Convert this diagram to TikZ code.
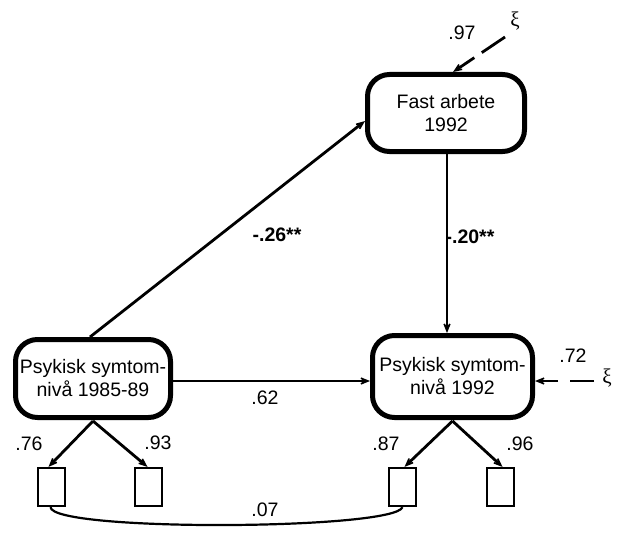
\documentclass[tikz,border=0pt]{standalone}
\usepackage{fontspec}
\setmainfont{Liberation Sans}
\newfontfamily\xifont{Liberation Serif}
\usetikzlibrary{arrows.meta}
\begin{document}
\begin{tikzpicture}[x=1pt,y=-1pt,
  font=\fontsize{19.5}{23}\selectfont,
  bigbox/.style={draw, line width=5pt, rounded corners=22pt, align=center, inner sep=0pt},
  indic/.style={draw, line width=2.2pt, minimum width=27pt, minimum height=38pt, inner sep=0pt},
  arr/.style={line width=2.8pt, -{Stealth[length=16pt,width=13pt,inset=10pt]}},
  lab/.style={inner sep=0pt},
  xi/.style={inner sep=0pt, font=\fontsize{21}{22}\xifont}]
\useasboundingbox (0,0) rectangle (617,532);
% boxes
\node[bigbox, minimum width=157pt, minimum height=77pt] (F) at (446,113) {Fast arbete\\1992};
\node[bigbox, minimum width=155pt, minimum height=78pt] (L) at (93,378.5) {Psykisk symtom-\\nivå 1985-89};
\node[bigbox, minimum width=160pt, minimum height=82pt] (R) at (452.5,376.5) {Psykisk symtom-\\nivå 1992};
% indicators
\node[indic] (L1) at (51.5,487) {};
\node[indic] (L2) at (148.5,487) {};
\node[indic] (R1) at (402.5,487) {};
\node[indic] (R2) at (500.5,487) {};
% error terms
\node[xi] (xt) at (515,21) {ξ};
\node[xi] (xr) at (607,378) {ξ};
\coordinate (xts) at (505,37);
\coordinate (xrs) at (594,381);
% structural paths
\draw[arr] ([xshift=-3pt]L.north) -- ([yshift=-8pt]F.west);
\draw[arr] ([xshift=1pt]F.south) -- ([xshift=-5.5pt]R.north);
\draw[arr] ([yshift=-2.5pt]L.east) -- ([yshift=-4.5pt]R.west);
\draw[arr, dash pattern=on 28pt off 9pt on 40pt] (xts) -- ([xshift=7pt]F.north);
\draw[arr, dash pattern=on 24pt off 12pt on 40pt] (xrs) -- ([yshift=-4.5pt]R.east);
% measurement paths
\draw[arr] ([yshift=-1pt]L.south) -- ([xshift=-3pt]L1.north);
\draw[arr] ([yshift=-1pt]L.south) -- ([xshift=-1pt]L2.north);
\draw[arr] ([yshift=-1pt]R.south) -- ([xshift=2pt]R1.north);
\draw[arr] ([yshift=-1pt]R.south) -- ([xshift=2pt]R2.north);
% correlated errors
\draw[line width=2.2pt] ([xshift=-1pt]L1.south) .. controls (52,532) and (395,530) .. (R1.south);
% labels
\node[lab, font=\fontsize{19.5}{23}\selectfont\bfseries] (l26) at (277,235) {-.26**};
\node[lab, font=\fontsize{19.5}{23}\selectfont\bfseries] (l20) at (470,237) {-.20**};
\node[lab] (l62) at (265,398) {.62};
\node[lab] (l97) at (462,33) {.97};
\node[lab] (l72) at (573,356) {.72};
\node[lab] (l76) at (29,444) {.76};
\node[lab] (l93) at (158,443) {.93};
\node[lab] (l87) at (386,444) {.87};
\node[lab] (l96) at (520,444) {.96};
\node[lab] (l07) at (265,510) {.07};
\end{tikzpicture}
\end{document}
